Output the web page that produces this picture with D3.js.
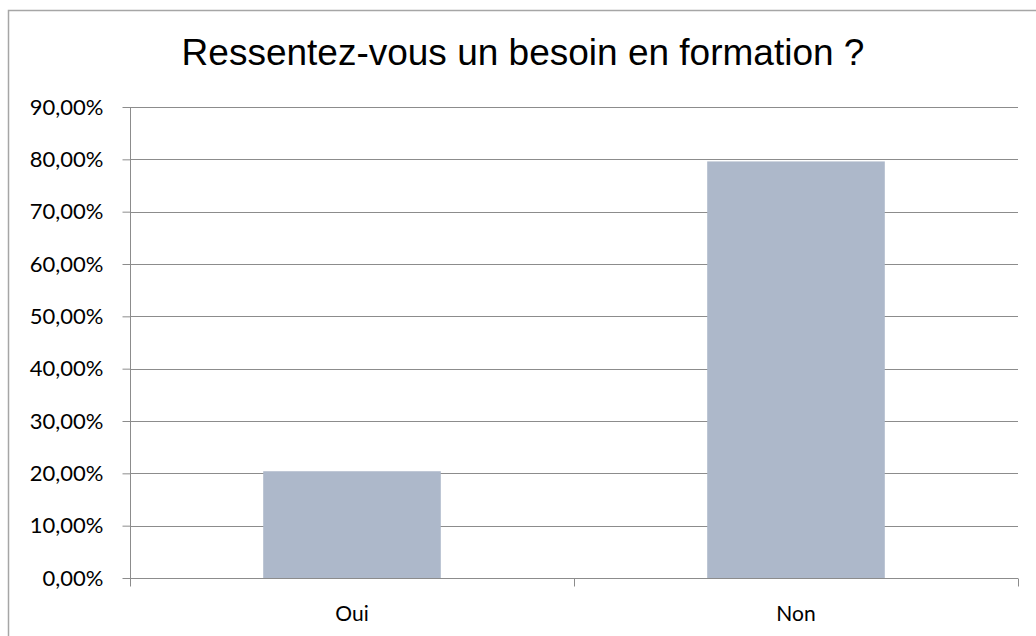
<!DOCTYPE html>
<html><head><meta charset="utf-8">
<script src="https://cdn.jsdelivr.net/npm/d3@7"></script>
<style>html,body{margin:0;padding:0;background:#fff;overflow:hidden}</style>
</head><body>
<svg id="c" width="1036" height="636"></svg>
<script>
const categories = ["Oui", "Non"];
const values = [0.204, 0.796];
const yTicks = [0, 0.1, 0.2, 0.3, 0.4, 0.5, 0.6, 0.7, 0.8, 0.9];
const title = "Ressentez-vous un besoin en formation ?";

const svg = d3.select("#c");
const W = 1036, H = 636;
const m = {left: 130, right: 18, top: 107, bottom: 58};

// outer chart border (extends off image to right/bottom)
svg.append("rect").attr("x", 8.5).attr("y", 10.5).attr("width", 1060).attr("height", 700)
  .attr("fill", "#fff").attr("stroke", "#a6a6a6").attr("stroke-width", 1.5);

const x = d3.scaleBand().domain(categories).range([m.left, W - m.right]).paddingInner(0.6).paddingOuter(0.3);
const xb = d3.scaleBand().domain(categories).range([m.left, W - m.right]).padding(0);
const y = d3.scaleLinear().domain([0, 0.9]).range([H - m.bottom, m.top]);

const fmt = v => d3.format(".2f")(v * 100).replace(".", ",") + "%";

// gridlines
svg.append("g").selectAll("line").data(yTicks.filter(d => d > 0)).join("line")
  .attr("x1", m.left).attr("x2", W - m.right)
  .attr("y1", d => Math.round(y(d)) + 0.5).attr("y2", d => Math.round(y(d)) + 0.5)
  .attr("stroke", "#8c8c8c").attr("stroke-width", 1);

// bars
svg.append("g").selectAll("rect").data(categories).join("rect")
  .attr("x", d => x(d)).attr("width", x.bandwidth())
  .attr("y", (d, i) => y(values[i])).attr("height", (d, i) => y(0) - y(values[i]))
  .attr("fill", "#adb8ca");

// y axis
const yAxis = d3.axisLeft(y).tickValues(yTicks).tickFormat(fmt).tickSize(8).tickPadding(19);
const gy = svg.append("g").attr("transform", `translate(${m.left + 0.5},0)`).call(yAxis);
gy.select(".domain").attr("stroke", "#8c8c8c").attr("d", `M0,${y(0.9)}V${y(0)}`);
gy.selectAll(".tick line").attr("stroke", "#8c8c8c");
gy.selectAll(".tick text").attr("fill", "#000").style("font-family", "Lato, 'Open Sans', sans-serif").style("font-size", "22px");

// x axis
const gx = svg.append("g").attr("transform", `translate(0,${Math.round(y(0)) + 0.5})`);
gx.append("line").attr("x1", m.left).attr("x2", W - m.right).attr("stroke", "#8c8c8c");
const bounds = [m.left, ...categories.map(c => xb(c) + xb.bandwidth())];
gx.selectAll(".tk").data(bounds).join("line").attr("class", "tk")
  .attr("x1", d => Math.round(d) + 0.5).attr("x2", d => Math.round(d) + 0.5)
  .attr("y1", 0).attr("y2", 8).attr("stroke", "#8c8c8c");
gx.selectAll("text").data(categories).join("text")
  .attr("x", d => xb(d) + xb.bandwidth() / 2).attr("y", 42)
  .attr("text-anchor", "middle").attr("fill", "#000")
  .style("font-family", "Lato, 'Open Sans', sans-serif").style("font-size", "21px")
  .text(d => d);

// title
svg.append("text").attr("x", 523).attr("y", 65).attr("text-anchor", "middle")
  .style("font-family", "'Liberation Sans', Arial, sans-serif").style("font-size", "37px")
  .attr("fill", "#000").text(title);
</script>
</body></html>
